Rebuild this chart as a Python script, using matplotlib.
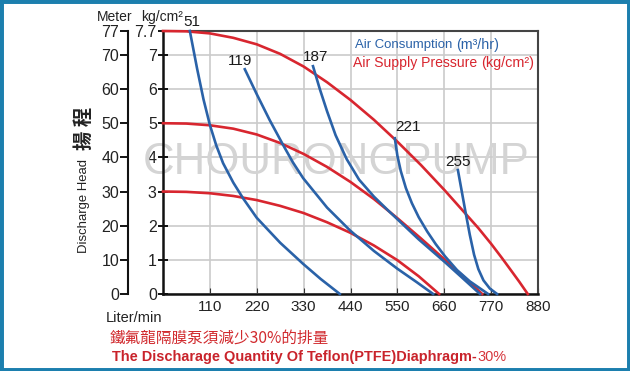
import matplotlib
matplotlib.use('Agg')
import matplotlib.pyplot as plt
from matplotlib import font_manager
from matplotlib.patches import Rectangle

names = {f.name for f in font_manager.fontManager.ttflist}
NARROW = 'Liberation Sans Narrow' if 'Liberation Sans Narrow' in names else 'Liberation Sans'
SANS = 'Liberation Sans'
CJK = ['Noto Sans CJK TC', 'DejaVu Sans']

BLUE = '#2a62a8'
RED = '#d8262f'

# 空气压力曲线 (kg/cm2)  x: Liter/min, y: Meter
p77_x = [0, 55, 110, 165, 220, 275, 330, 385, 440, 495, 550, 605, 660, 710, 740, 770, 795, 815, 836, 856]
p77_y = [77, 76.9, 76.3, 75, 73.1, 70.3, 66.6, 62, 56.8, 51, 44.6, 37.8, 30.5, 23.5, 19.3, 14.7, 10.6, 7.2, 3.6, 0]
p5_x = [0, 55, 110, 165, 220, 275, 330, 385, 440, 495, 550, 605, 660, 705, 749]
p5_y = [50, 49.9, 49.4, 48.4, 46.7, 44.2, 41, 37.2, 32.8, 27.8, 22.2, 16.3, 10.2, 5.1, 0]
p3_x = [0, 55, 110, 165, 220, 275, 330, 385, 440, 495, 550, 600, 648]
p3_y = [30, 29.9, 29.5, 28.7, 27.5, 25.8, 23.7, 21, 17.9, 14.2, 9.9, 5.2, 0]

# 耗气量曲线 (m3/hr)
a51_x = [63, 80, 95, 110, 125, 141, 165, 188, 220, 275, 329, 370, 415]
a51_y = [77, 66, 57, 49.5, 43.5, 38.3, 32.6, 28, 22.3, 15, 8.8, 4.4, 0]
a119_x = [192, 220, 250, 282, 305, 329, 385, 439, 495, 550, 595, 634]
a119_y = [65.8, 58.5, 51, 43.6, 38.5, 33.9, 25.3, 18.6, 12.6, 7.4, 3.5, 0]
a187_x = [352, 368, 385, 405, 431, 460, 495, 528, 600, 660, 700, 744]
a187_y = [66.7, 60, 53.5, 46.5, 39.5, 33.5, 28.5, 24.5, 16, 9.5, 5, 0]
a221_x = [544, 550, 558, 570, 584, 600, 620, 640, 662, 690, 720, 763]
a221_y = [45.6, 40.5, 36, 31, 26.6, 22.5, 18.3, 14.6, 11, 7, 3.7, 0]
a255_x = [692, 700, 709, 720, 730, 740, 752, 767, 784]
a255_y = [36.3, 30.8, 24.6, 17.3, 11.5, 7.3, 4, 1.6, 0]

air_labels = ['51', '119', '187', '221', '255']
air_label_x = [68, 181, 357, 575, 692]
air_label_y = [79.5, 68.1, 69.3, 48.8, 38.6]

x_ticks = [110, 220, 330, 440, 550, 660, 770, 880]
kg_pos = [0, 10, 20, 30, 40, 50, 60, 70, 77]
kg_labels = ['0', '1', '2', '3', '4', '5', '6', '7', '7.7']
m_pos = [0, 10, 20, 30, 40, 50, 60, 70, 77]
m_labels = ['0', '10', '20', '30', '40', '50', '60', '70', '77']

W, H = 630, 371
fig = plt.figure(figsize=(6.3, 3.71), dpi=100)


def fpos(x, y):
    return x / W, 1 - y / H


def fit(t, size_px, vertical=False):
    r = fig.canvas.get_renderer()
    bb = t.get_window_extent(r)
    cur = bb.height if vertical else bb.width
    t.set_fontsize(t.get_fontsize() * size_px / cur)
    return t


def right_px(t):
    r = fig.canvas.get_renderer()
    return t.get_window_extent(r).x1


ax = fig.add_axes([163 / W, 1 - 294 / H, 375 / W, 263 / H])
ax.set_xlim(0, 880)
ax.set_ylim(0, 77)
ax.set_xticks(x_ticks)
ax.set_xticklabels(x_ticks, fontfamily=SANS, fontsize=11, color='#222222')
ax.set_yticks(kg_pos)
ax.set_yticklabels(kg_labels, fontfamily=NARROW, fontsize=11.5, color='#222222')
ax.tick_params(axis='x', direction='in', length=4, pad=4, color='#333333')
ax.tick_params(axis='y', direction='inout', length=7, width=1.3, pad=1)
ax.grid(True, color='#cbcbcb', lw=1.2)
ax.set_axisbelow(True)
for s in ['left', 'bottom']:
    ax.spines[s].set_linewidth(1.8)
    ax.spines[s].set_color('#111111')
for s in ['top', 'right']:
    ax.spines[s].set_linewidth(1.5)
    ax.spines[s].set_color('#444444')

# 水印
wm = ax.text(0.0, 0.0, 'CHOURONGPUMP', transform=fig.transFigure, ha='center', va='center',
             fontfamily=NARROW, fontsize=36, color='#d4d4d4', zorder=1.5)
wm.set_position(fpos(336, 163))
fit(wm, 387)

for xs, ys in [(p77_x, p77_y), (p5_x, p5_y), (p3_x, p3_y)]:
    ax.plot(xs, ys, color=RED, lw=1.9, zorder=3, clip_on=False, solid_joinstyle='round')
for xs, ys in [(a51_x, a51_y), (a119_x, a119_y), (a187_x, a187_y), (a221_x, a221_y), (a255_x, a255_y)]:
    ax.plot(xs, ys, color=BLUE, lw=1.9, zorder=3, clip_on=False, solid_joinstyle='round')

for lab, lx, ly in zip(air_labels, air_label_x, air_label_y):
    ax.text(lx, ly, lab, ha='center', va='center', fontfamily=SANS, fontsize=11,
            color='#1a1a1a', zorder=4, clip_on=False)

# 米 刻度轴
ax2 = ax.twinx()
ax2.set_ylim(0, 77)
ax2.yaxis.set_ticks_position('left')
ax2.spines['left'].set_visible(True)
ax2.spines['left'].set_position(('outward', 25))
ax2.spines['left'].set_linewidth(1.5)
ax2.spines['left'].set_color('#111111')
for s in ['right', 'top', 'bottom']:
    ax2.spines[s].set_visible(False)
ax2.set_yticks(m_pos)
ax2.set_yticklabels(m_labels, fontfamily=NARROW, fontsize=11.5, color='#222222')
ax2.tick_params(axis='y', direction='out', length=5.5, width=1.3, pad=1)

# 图例文字
t1 = fig.text(*fpos(355, 45), 'Air Consumption', color=BLUE, fontfamily=NARROW,
              fontsize=10.5, ha='left', va='center')
fit(t1, 98)
t1b = fig.text(0, 0, '(m³/hr)', color=BLUE, fontfamily=NARROW, fontsize=10,
               ha='left', va='center')
t1b.set_position(((right_px(t1) + 4) / W, 1 - 45 / H))
fit(t1b, 43)
t2 = fig.text(*fpos(353, 63), 'Air Supply Pressure', color=RED, fontfamily=NARROW,
              fontsize=10.5, ha='left', va='center')
fit(t2, 125)
t2b = fig.text(0, 0, '(kg/cm²)', color=RED, fontfamily=NARROW, fontsize=10,
               ha='left', va='center')
t2b.set_position(((right_px(t2) + 4) / W, 1 - 63 / H))
fit(t2b, 53)

# 轴标题
fig.text(*fpos(115, 17), 'Meter', fontfamily=NARROW, fontsize=10, color='#222222', ha='center', va='center')
fig.text(*fpos(162, 17), 'kg/cm²', fontfamily=NARROW, fontsize=10, color='#222222', ha='center', va='center')
dh = fig.text(*fpos(84, 206), 'Discharge Head', fontfamily=NARROW, fontsize=10, color='#222222',
              rotation=90, ha='center', va='center')
fit(dh, 94, vertical=True)
fig.text(*fpos(85, 128), '揚 程', fontfamily=CJK, fontsize=14, fontweight='bold', color='#222222',
         rotation=90, ha='center', va='center')
fig.text(*fpos(134, 318), 'Liter/min', fontfamily=SANS, fontsize=10.5, color='#222222', ha='center', va='center')

# 底部说明
c1 = fig.text(*fpos(110, 338), '鐵氟龍隔膜泵須減少30%的排量', fontfamily=CJK, fontsize=11.5,
              color='#d12a2e', ha='left', va='center')
fit(c1, 219)
e1 = fig.text(*fpos(112, 357), 'The Discharage Quantity Of Teflon(PTFE)Diaphragm-', fontfamily=SANS,
              fontsize=10, fontweight='bold', color='#c9232b', ha='left', va='center')
fit(e1, 365)
e2 = fig.text(0, 0, '30%', fontfamily=SANS, fontsize=e1.get_fontsize(), color='#d6363c',
              ha='left', va='center')
e2.set_position(((right_px(e1) + 1) / W, 1 - 357 / H))

# 外框
fig.patches.append(Rectangle((0, 0), 1, 1, transform=fig.transFigure, fill=False,
                             edgecolor='#1c7fae', lw=5, zorder=10))

fig.savefig('out.png', dpi=100)
